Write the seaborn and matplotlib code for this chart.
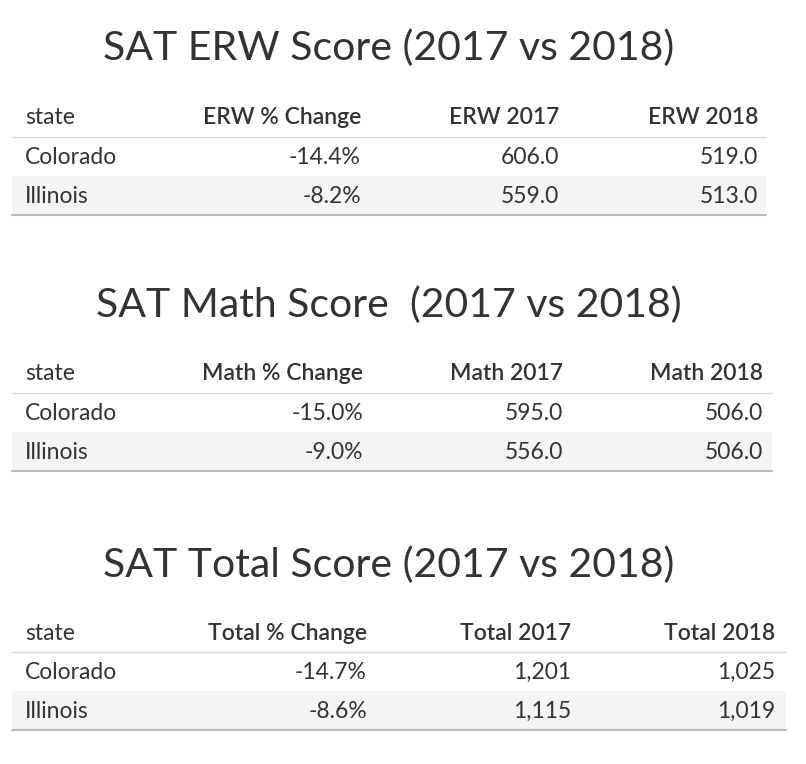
import matplotlib.pyplot as plt
import seaborn as sns

states = ['Colorado', 'Illinois']
titles = ['SAT ERW Score (2017 vs 2018)', 'SAT Math Score  (2017 vs 2018)', 'SAT Total Score (2017 vs 2018)']
headers = [['state', 'ERW % Change', 'ERW 2017', 'ERW 2018'],
           ['state', 'Math % Change', 'Math 2017', 'Math 2018'],
           ['state', 'Total % Change', 'Total 2017', 'Total 2018']]
pct_change = [['-14.4%', '-8.2%'], ['-15.0%', '-9.0%'], ['-14.7%', '-8.6%']]
score_2017 = [['606.0', '559.0'], ['595.0', '556.0'], ['1,201', '1,115']]
score_2018 = [['519.0', '513.0'], ['506.0', '506.0'], ['1,025', '1,019']]

sns.set_style('white')
plt.rcParams['font.family'] = ['Lato', 'DejaVu Sans']

fig = plt.figure(figsize=(8.06, 7.64), dpi=100)
ax = fig.add_axes([0, 0, 1, 1])
ax.set_xlim(0, 806)
ax.set_ylim(764, 0)
ax.axis('off')

title_y = [48, 305, 565]
header_y = [118, 374, 633]
col_right = [[361, 559, 758], [363, 563, 763], [367, 571, 775]]
table_end = [766, 772, 786]
row_h = 39
txt = '#333333'
fs = 16.5

for t in range(3):
    ax.text(389, title_y[t], titles[t], ha='center', va='center', fontsize=29.5, color=txt)
    hy = header_y[t]
    right = col_right[t]
    x0, x1 = 12, table_end[t]
    ax.text(25, hy, headers[t][0], ha='left', va='center', fontsize=fs, color=txt)
    ax.text(right[0], hy, headers[t][1], ha='right', va='center', fontsize=fs, color=txt, fontweight='semibold')
    ax.text(right[1], hy, headers[t][2], ha='right', va='center', fontsize=fs, color=txt, fontweight='semibold')
    ax.text(right[2], hy, headers[t][3], ha='right', va='center', fontsize=fs, color=txt, fontweight='semibold')
    line_y = hy + 19
    ax.plot([x0, x1], [line_y, line_y], color='#d9d9d9', lw=1)
    for i, s in enumerate(states):
        ry = line_y + row_h * i + row_h / 2 + 1
        if i == 1:
            ax.fill_between([x0, x1], line_y + row_h, line_y + 2 * row_h, color='#f4f4f4', lw=0)
        ax.text(25, ry, s, ha='left', va='center', fontsize=fs, color=txt)
        ax.text(right[0], ry, pct_change[t][i], ha='right', va='center', fontsize=fs, color=txt)
        ax.text(right[1], ry, score_2017[t][i], ha='right', va='center', fontsize=fs, color=txt)
        ax.text(right[2], ry, score_2018[t][i], ha='right', va='center', fontsize=fs, color=txt)
    bottom = line_y + 2 * row_h
    ax.plot([x0, x1], [bottom, bottom], color='#bbbbbb', lw=1.5)

fig.savefig('out.png', dpi=100)
